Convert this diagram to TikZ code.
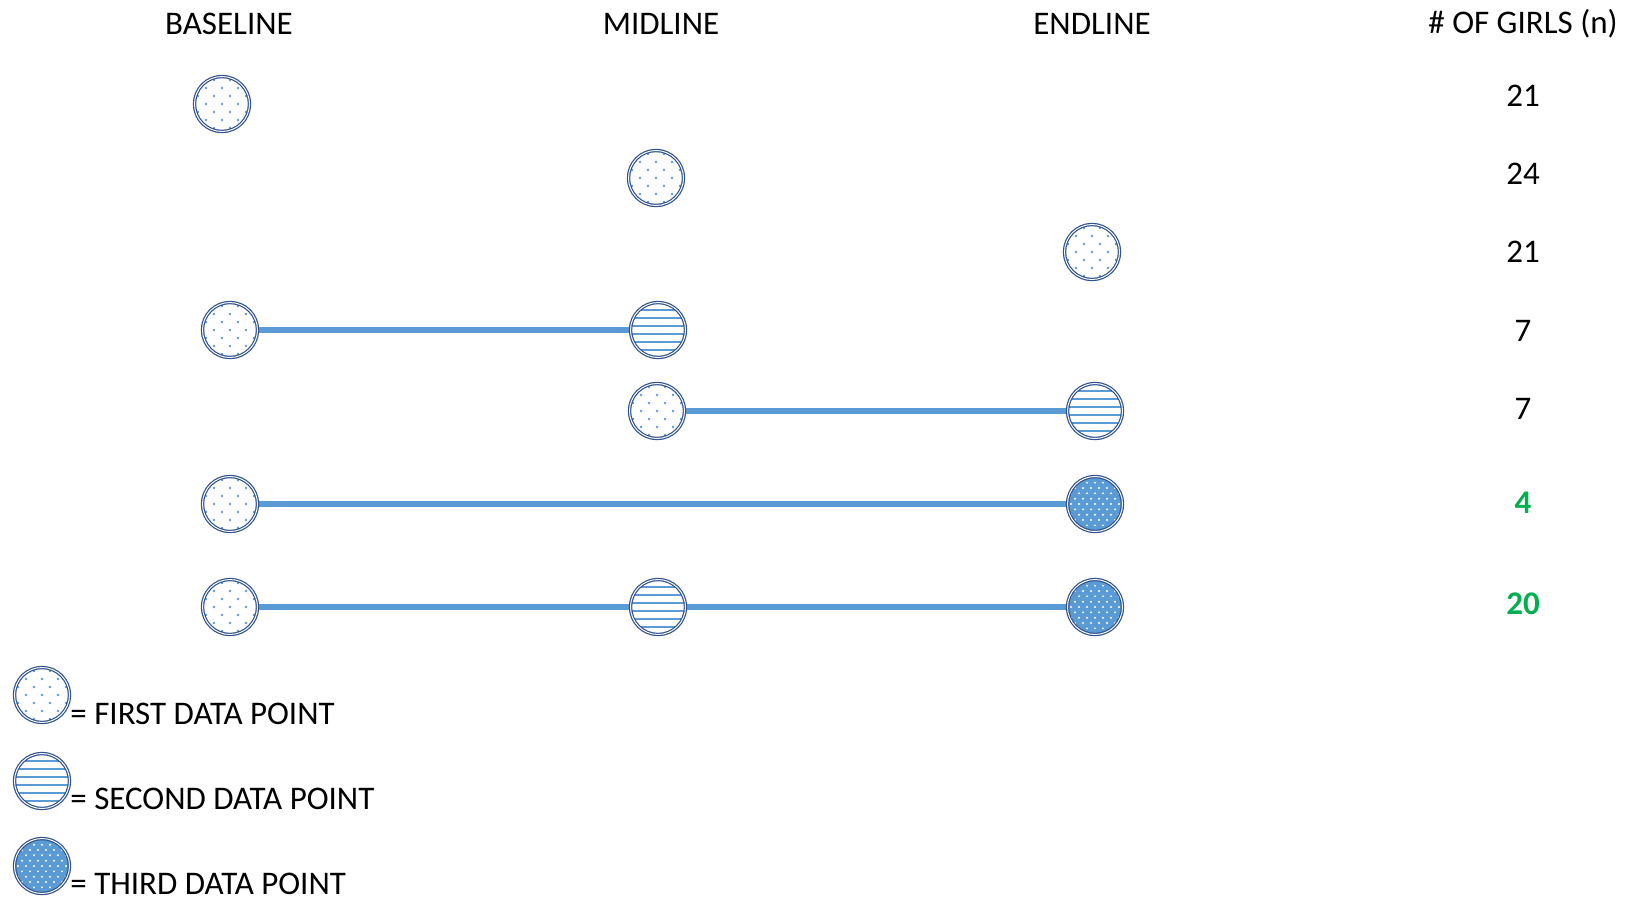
\documentclass[tikz,border=0pt]{standalone}
\usepackage{fontspec}
\setmainfont{Carlito}
\definecolor{pointblue}{HTML}{5B9BD5}
\definecolor{ringblue}{HTML}{2F528F}
\definecolor{countgreen}{HTML}{00B050}
\begin{document}
\begin{tikzpicture}[
	x=0.5pt, y=-0.5pt,
	font=\fontsize{16.5}{19}\selectfont,
	ring/.style={
		circle,
		inner sep=0pt,
		minimum size=27.5pt,
		draw=ringblue,
		line width=0.6pt,
		double=white,
		double distance=0.5pt
	},
	firstpt/.style={
		ring,
		fill=white,
		path picture={
			\foreach \m in {-4,...,4}
				\foreach \n in {-4,...,4} {
					\pgfmathparse{int(mod(\m+\n+8,2))}
					\ifnum\pgfmathresult=0
						\fill[pointblue] ([shift={(\m*4pt,\n*4pt)}]path picture bounding box.center) circle (0.65pt);
					\fi
				}
		}
	},
	secondpt/.style={
		ring,
		fill=white,
		path picture={
			\foreach \k in {-3,...,2}
				\draw[pointblue, line width=1pt]
					([yshift={(\k+0.5)*4pt}]path picture bounding box.west) --
					([yshift={(\k+0.5)*4pt}]path picture bounding box.east);
		}
	},
	thirdpt/.style={
		ring,
		fill=pointblue,
		path picture={
			\foreach \m in {-7,...,7}
				\foreach \n in {-6,...,6} {
					\pgfmathparse{int(mod(\m+\n+14,2))}
					\ifnum\pgfmathresult=0
						\fill[white] ([shift={(\m*2pt,\n*2.67pt)}]path picture bounding box.center) circle (0.55pt);
					\fi
				}
		}
	},
	link/.style={
		color=pointblue,
		line width=2.6pt
	},
	count/.style={
		anchor=center
	},
	bigcount/.style={
		count,
		color=countgreen,
		font=\fontsize{16.5}{19}\selectfont\bfseries
	}
]
	\useasboundingbox (0,0) rectangle (1625,900);
	% Kopfzeile
	\node (hbase) at (229,24) {BASELINE};
	\node (hmid) at (661,24) {MIDLINE};
	\node (hend) at (1092,24) {ENDLINE};
	\node (hgirls) at (1523,24) {\# OF GIRLS (n)};
	% Verbindungen
	\coordinate (b4) at (230,330);
	\coordinate (m4) at (658,330);
	\coordinate (m5) at (657,411);
	\coordinate (e5) at (1095,411);
	\coordinate (b6) at (230,504);
	\coordinate (e6) at (1095,504);
	\coordinate (b7) at (230,607);
	\coordinate (m7) at (658,607);
	\coordinate (e7) at (1095,607);
	\draw[link] (b4) -- (m4);
	\draw[link] (m5) -- (e5);
	\draw[link] (b6) -- (e6);
	\draw[link] (b7) -- (m7) -- (e7);
	% Messpunkte
	\node[firstpt] (p1) at (222,104) {};
	\node[firstpt] (p2) at (656,178) {};
	\node[firstpt] (p3) at (1092,252) {};
	\node[firstpt] (p4a) at (b4) {};
	\node[secondpt] (p4b) at (m4) {};
	\node[firstpt] (p5a) at (m5) {};
	\node[secondpt] (p5b) at (e5) {};
	\node[firstpt] (p6a) at (b6) {};
	\node[thirdpt] (p6b) at (e6) {};
	\node[firstpt] (p7a) at (b7) {};
	\node[secondpt] (p7b) at (m7) {};
	\node[thirdpt] (p7c) at (e7) {};
	% Anzahl
	\node[count] (n1) at (1523,96) {21};
	\node[count] (n2) at (1523,174) {24};
	\node[count] (n3) at (1523,252) {21};
	\node[count] (n4) at (1523,331) {7};
	\node[count] (n5) at (1523,409) {7};
	\node[bigcount] (n6) at (1523,503) {4};
	\node[bigcount] (n7) at (1523,604) {20};
	% Legende
	\node[firstpt] (lfirst) at (42,695) {};
	\node[secondpt] (lsecond) at (42,781) {};
	\node[thirdpt] (lthird) at (42,866) {};
	\node[anchor=west, inner sep=0pt] (tfirst) at (70,714) {= FIRST DATA POINT};
	\node[anchor=west, inner sep=0pt] (tsecond) at (70,799) {= SECOND DATA POINT};
	\node[anchor=west, inner sep=0pt] (tthird) at (70,884) {= THIRD DATA POINT};
\end{tikzpicture}
\end{document}
